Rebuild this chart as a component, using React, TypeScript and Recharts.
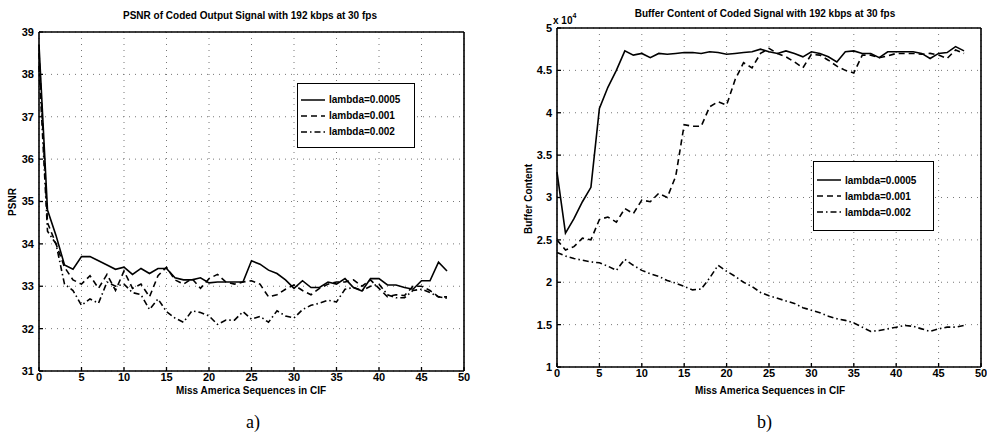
import React from 'react'
import { LineChart, Line, XAxis, YAxis, CartesianGrid } from 'recharts'

// frame index 0..48
const FRAMES = [
    0, 1, 2, 3, 4, 5, 6, 7, 8, 9, 10, 11, 12, 13, 14, 15, 16, 17, 18, 19, 20, 21, 22, 23, 24,
    25, 26, 27, 28, 29, 30, 31, 32, 33, 34, 35, 36, 37, 38, 39, 40, 41, 42, 43, 44, 45, 46, 47, 48,
]

// a) PSNR
const PSNR_0005 = [
    38.7, 34.8, 34.2, 33.5, 33.4, 33.7, 33.7, 33.6, 33.5, 33.4, 33.45, 33.28, 33.42, 33.3, 33.42,
    33.42, 33.2, 33.15, 33.15, 33.2, 33.08, 33.1, 33.1, 33.1, 33.1, 33.6, 33.52, 33.38, 33.3, 33.15,
    32.95, 33.13, 32.97, 32.97, 33.1, 33.05, 33.18, 32.97, 32.89, 33.18, 33.18, 33.03, 33.03, 32.97,
    32.93, 33.13, 33.13, 33.57, 33.36,
]
const PSNR_001 = [
    38.5, 34.5, 34.0, 33.45, 33.15, 33.05, 33.25, 32.95, 33.28, 32.9, 33.36, 32.95, 33.05, 32.75,
    33.25, 33.45, 33.15, 33.05, 33.18, 32.95, 33.18, 33.28, 33.1, 33.05, 33.1, 33.13, 33.05, 32.75,
    32.8, 32.93, 33.03, 32.9, 32.8, 32.95, 33.05, 33.1, 33.1, 33.15, 33.0, 33.15, 32.95, 32.75, 32.8,
    32.78, 33.0, 33.0, 32.9, 32.75, 32.75,
]
const PSNR_002 = [
    38.2, 34.3, 34.0, 33.05, 32.9, 32.55, 32.7, 32.6, 33.1, 33.0, 33.05, 32.85, 32.8, 32.45, 32.7,
    32.4, 32.25, 32.15, 32.42, 32.38, 32.3, 32.1, 32.2, 32.2, 32.4, 32.22, 32.29, 32.15, 32.42, 32.3,
    32.25, 32.45, 32.55, 32.6, 32.67, 32.63, 32.93, 32.97, 32.9, 33.0, 33.05, 32.8, 32.73, 32.73,
    32.9, 32.93, 32.85, 32.75, 32.72,
]

// b) buffer content (x 10^4)
const BUF_0005 = [
    3.3, 2.58, 2.75, 2.95, 3.12, 4.05, 4.3, 4.5, 4.73, 4.68, 4.7, 4.65, 4.7, 4.69, 4.7, 4.71, 4.71,
    4.7, 4.72, 4.71, 4.69, 4.7, 4.71, 4.72, 4.75, 4.72, 4.7, 4.73, 4.7, 4.66, 4.72, 4.7, 4.66, 4.6,
    4.72, 4.73, 4.7, 4.7, 4.65, 4.72, 4.72, 4.72, 4.72, 4.7, 4.64, 4.7, 4.71, 4.78, 4.73,
]
const BUF_001 = [
    2.5, 2.38, 2.42, 2.52, 2.5, 2.74, 2.77, 2.71, 2.87, 2.81, 2.97, 2.95, 3.05, 3.0, 3.25, 3.86,
    3.84, 3.84, 4.07, 4.13, 4.09, 4.39, 4.59, 4.53, 4.7, 4.76, 4.7, 4.66, 4.6, 4.53, 4.69, 4.68,
    4.62, 4.55, 4.5, 4.47, 4.68, 4.68, 4.65, 4.67, 4.7, 4.7, 4.7, 4.69, 4.7, 4.68, 4.64, 4.74, 4.7,
]
const BUF_002 = [
    2.35, 2.31, 2.28, 2.26, 2.24, 2.23, 2.19, 2.14, 2.27, 2.2, 2.14, 2.1, 2.07, 2.02, 1.99, 1.95,
    1.91, 1.92, 2.05, 2.2, 2.13, 2.07, 2.0, 1.95, 1.88, 1.84, 1.81, 1.78, 1.75, 1.7, 1.67, 1.64,
    1.6, 1.57, 1.55, 1.52, 1.47, 1.42, 1.43, 1.45, 1.47, 1.49, 1.48, 1.45, 1.42, 1.45, 1.47, 1.47,
    1.49,
]

const X_TICKS = [0, 5, 10, 15, 20, 25, 30, 35, 40, 45, 50]
const PSNR_TICKS = [31, 32, 33, 34, 35, 36, 37, 38, 39]
const BUF_TICKS = [1, 1.5, 2, 2.5, 3, 3.5, 4, 4.5, 5]
const BUF_TICK_LABELS = ['1', '1.5', '2', '2.5', '3', '3.5', '4', '4.5', '5']

const LAMBDAS = ['lambda=0.0005', 'lambda=0.001', 'lambda=0.002']
const DASHES = [undefined, '6 4', '6 3 1.5 3']

const psnrRows = FRAMES.map((f, i) => ({ f, a: PSNR_0005[i], b: PSNR_001[i], c: PSNR_002[i] }))
const bufRows = FRAMES.map((f, i) => ({ f, a: BUF_0005[i], b: BUF_001[i], c: BUF_002[i] }))

const SANS = '"Liberation Sans", Arial, sans-serif'
const tickStyle = { fontFamily: SANS, fontSize: 11, fontWeight: 700, fill: '#000' }
const axisLine = { stroke: '#000', strokeWidth: 1.6 }
const tickLine = { stroke: '#000', strokeWidth: 1.3 }

function Legend({ left, top, width, height }: { left: number; top: number; width: number; height: number }) {
    return (
        <div
            style={{
                position: 'absolute',
                left,
                top,
                width,
                height,
                border: '1.5px solid #000',
                background: '#fff',
                boxSizing: 'border-box',
                display: 'flex',
                flexDirection: 'column',
                justifyContent: 'center',
                gap: 3,
                paddingLeft: 3,
            }}
        >
            {LAMBDAS.map((name, i) => (
                <div key={name} style={{ display: 'flex', alignItems: 'center', height: 13 }}>
                    <svg width={24} height={6} style={{ marginRight: 4 }}>
                        <line x1={0} y1={3} x2={24} y2={3} stroke="#000" strokeWidth={1.5} strokeDasharray={DASHES[i]} />
                    </svg>
                    <span style={{ fontFamily: SANS, fontSize: 10, fontWeight: 700 }}>{name}</span>
                </div>
            ))}
        </div>
    )
}

function Panel({
    data,
    ticks,
    domain,
    tickFmt,
    yWidth,
    left,
    top,
    bottom,
    width,
    right,
}: {
    data: any[]
    ticks: number[]
    domain: [number, number]
    tickFmt?: (v: number) => string
    yWidth: number
    left: number
    top: number
    bottom: number
    width: number
    right: number
}) {
    return (
        <LineChart
            width={width}
            height={400}
            data={data}
            margin={{ top: top - 1, right, left: 0, bottom: 0 }}
            style={{ position: 'absolute', left, top: 0 }}
        >
            <CartesianGrid stroke="#777" strokeDasharray="1 5" />
            <XAxis
                dataKey="f"
                type="number"
                domain={[0, 50]}
                ticks={X_TICKS}
                interval={0}
                height={400 - bottom}
                axisLine={axisLine}
                tickLine={tickLine}
                tickSize={-4}
                tickMargin={6}
                tick={tickStyle}
            />
            <XAxis
                xAxisId="top"
                orientation="top"
                dataKey="f"
                type="number"
                domain={[0, 50]}
                ticks={X_TICKS}
                height={1}
                axisLine={axisLine}
                tickLine={tickLine}
                tickSize={-4}
                tick={false}
            />
            <YAxis
                type="number"
                domain={domain}
                ticks={ticks}
                interval={0}
                width={yWidth}
                axisLine={axisLine}
                tickLine={tickLine}
                tickSize={-4}
                tickMargin={9}
                tick={tickStyle}
                tickFormatter={tickFmt}
            />
            <YAxis
                yAxisId="right"
                orientation="right"
                type="number"
                domain={domain}
                ticks={ticks}
                width={1}
                axisLine={axisLine}
                tickLine={tickLine}
                tickSize={-4}
                tick={false}
            />
            {['a', 'b', 'c'].map((k, i) => (
                <Line
                    key={k}
                    dataKey={k}
                    type="linear"
                    stroke="#000"
                    strokeWidth={1.6}
                    strokeDasharray={DASHES[i]}
                    dot={false}
                    isAnimationActive={false}
                />
            ))}
        </LineChart>
    )
}

const textBase: React.CSSProperties = {
    position: 'absolute',
    fontFamily: SANS,
    fontWeight: 700,
    fontSize: 10,
    color: '#000',
    whiteSpace: 'nowrap',
}

export default function App() {
    return (
        <div style={{ position: 'absolute', left: 0, top: 0, width: 987, height: 437, background: '#fff', overflow: 'hidden' }}>
            {/* a) */}
            <Panel
                data={psnrRows}
                ticks={PSNR_TICKS}
                domain={[31, 39]}
                yWidth={39}
                left={0}
                top={32}
                bottom={371}
                width={480}
                right={15}
            />
            {/* b) */}
            <Panel
                data={bufRows}
                ticks={BUF_TICKS}
                domain={[1, 5]}
                tickFmt={(v) => BUF_TICK_LABELS[BUF_TICKS.indexOf(v)]}
                yWidth={57}
                left={500}
                top={28}
                bottom={367}
                width={487}
                right={5}
            />

            <div style={{ ...textBase, left: 50, width: 400, top: 10, textAlign: 'center' }}>
                PSNR of Coded Output Signal with 192 kbps at 30 fps
            </div>
            <div style={{ ...textBase, left: 565, width: 400, top: 8, textAlign: 'center' }}>
                Buffer Content of Coded Signal with 192 kbps at 30 fps
            </div>
            <div style={{ ...textBase, left: 553, top: 12 }}>
                x 10<sup style={{ fontSize: 7, verticalAlign: 6 }}>4</sup>
            </div>

            <div style={{ ...textBase, left: 51, width: 400, top: 385, textAlign: 'center' }}>Miss America Sequences in CIF</div>
            <div style={{ ...textBase, left: 570, width: 400, top: 385, textAlign: 'center' }}>Miss America Sequences in CIF</div>

            <div style={{ ...textBase, left: 12, top: 202, transform: 'translate(-50%, -50%) rotate(-90deg)' }}>PSNR</div>
            <div style={{ ...textBase, left: 528, top: 199, transform: 'translate(-50%, -50%) rotate(-90deg)' }}>Buffer Content</div>

            <div style={{ position: 'absolute', left: 246, top: 412, fontFamily: '"Liberation Serif", serif', fontSize: 18 }}>a)</div>
            <div style={{ position: 'absolute', left: 757, top: 412, fontFamily: '"Liberation Serif", serif', fontSize: 18 }}>b)</div>

            <Legend left={297} top={83} width={118} height={65} />
            <Legend left={813} top={161} width={121} height={70} />
        </div>
    )
}
